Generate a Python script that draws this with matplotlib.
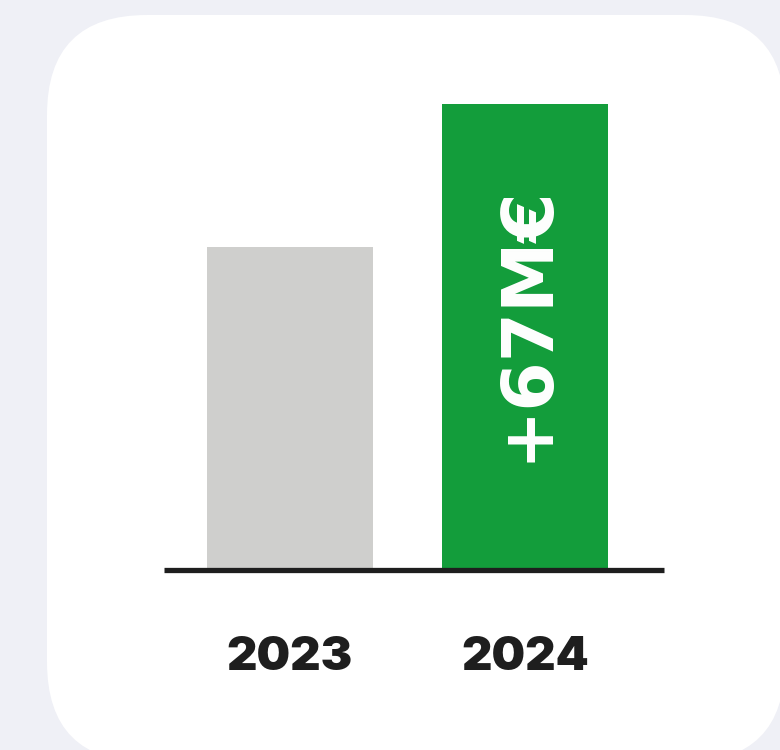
import matplotlib
matplotlib.use('Agg')
import matplotlib.pyplot as plt
from matplotlib.patches import FancyBboxPatch

years = ['2023', '2024']
revenue = [151, 218]  # M€
delta_label = '+67M€'
bar_colors = ['#cfcfcd', '#139d3b']

plt.rcParams['font.family'] = ['Inter', 'DejaVu Sans']

fig = plt.figure(figsize=(7.8, 7.5), dpi=100)
fig.patch.set_facecolor('#eff0f6')

# white rounded card behind the chart
card = FancyBboxPatch((47, -12), 738, 747, boxstyle='round,pad=0,rounding_size=100',
                      transform=None, facecolor='white', edgecolor='none', zorder=-5)
fig.patches.append(card)

ax = fig.add_axes([164 / 780, 180 / 750, 500 / 780, 470 / 750])
ax.set_zorder(2)
ax.set_facecolor('none')
x = range(len(years))
ax.bar(x, revenue, width=0.706, color=bar_colors, zorder=1)
ax.set_xlim(-0.536, 1.591)
ax.set_ylim(0, 220)

for s in ['top', 'right', 'left']:
    ax.spines[s].set_visible(False)
ax.spines['bottom'].set_color('#1e1e1e')
ax.spines['bottom'].set_linewidth(3.8)
ax.spines['bottom'].set_capstyle('butt')
ax.spines['bottom'].set_zorder(3)
ax.set_yticks([])
ax.set_xticks([])

# year labels under the baseline
for i, yr in enumerate(years):
    ax.text(i, -83 / 470, yr, transform=ax.get_xaxis_transform(), ha='center',
            va='center_baseline', fontsize=34, fontweight='black', color='#1e1e1e')

# growth label inside the 2024 bar
ax.text(1.01, 115.5, delta_label, rotation=90, ha='center', va='center', fontsize=51,
        fontweight='bold', color='white', family=['DejaVu Sans'], zorder=4)

fig.savefig('out.png', dpi=100, facecolor=fig.get_facecolor())
